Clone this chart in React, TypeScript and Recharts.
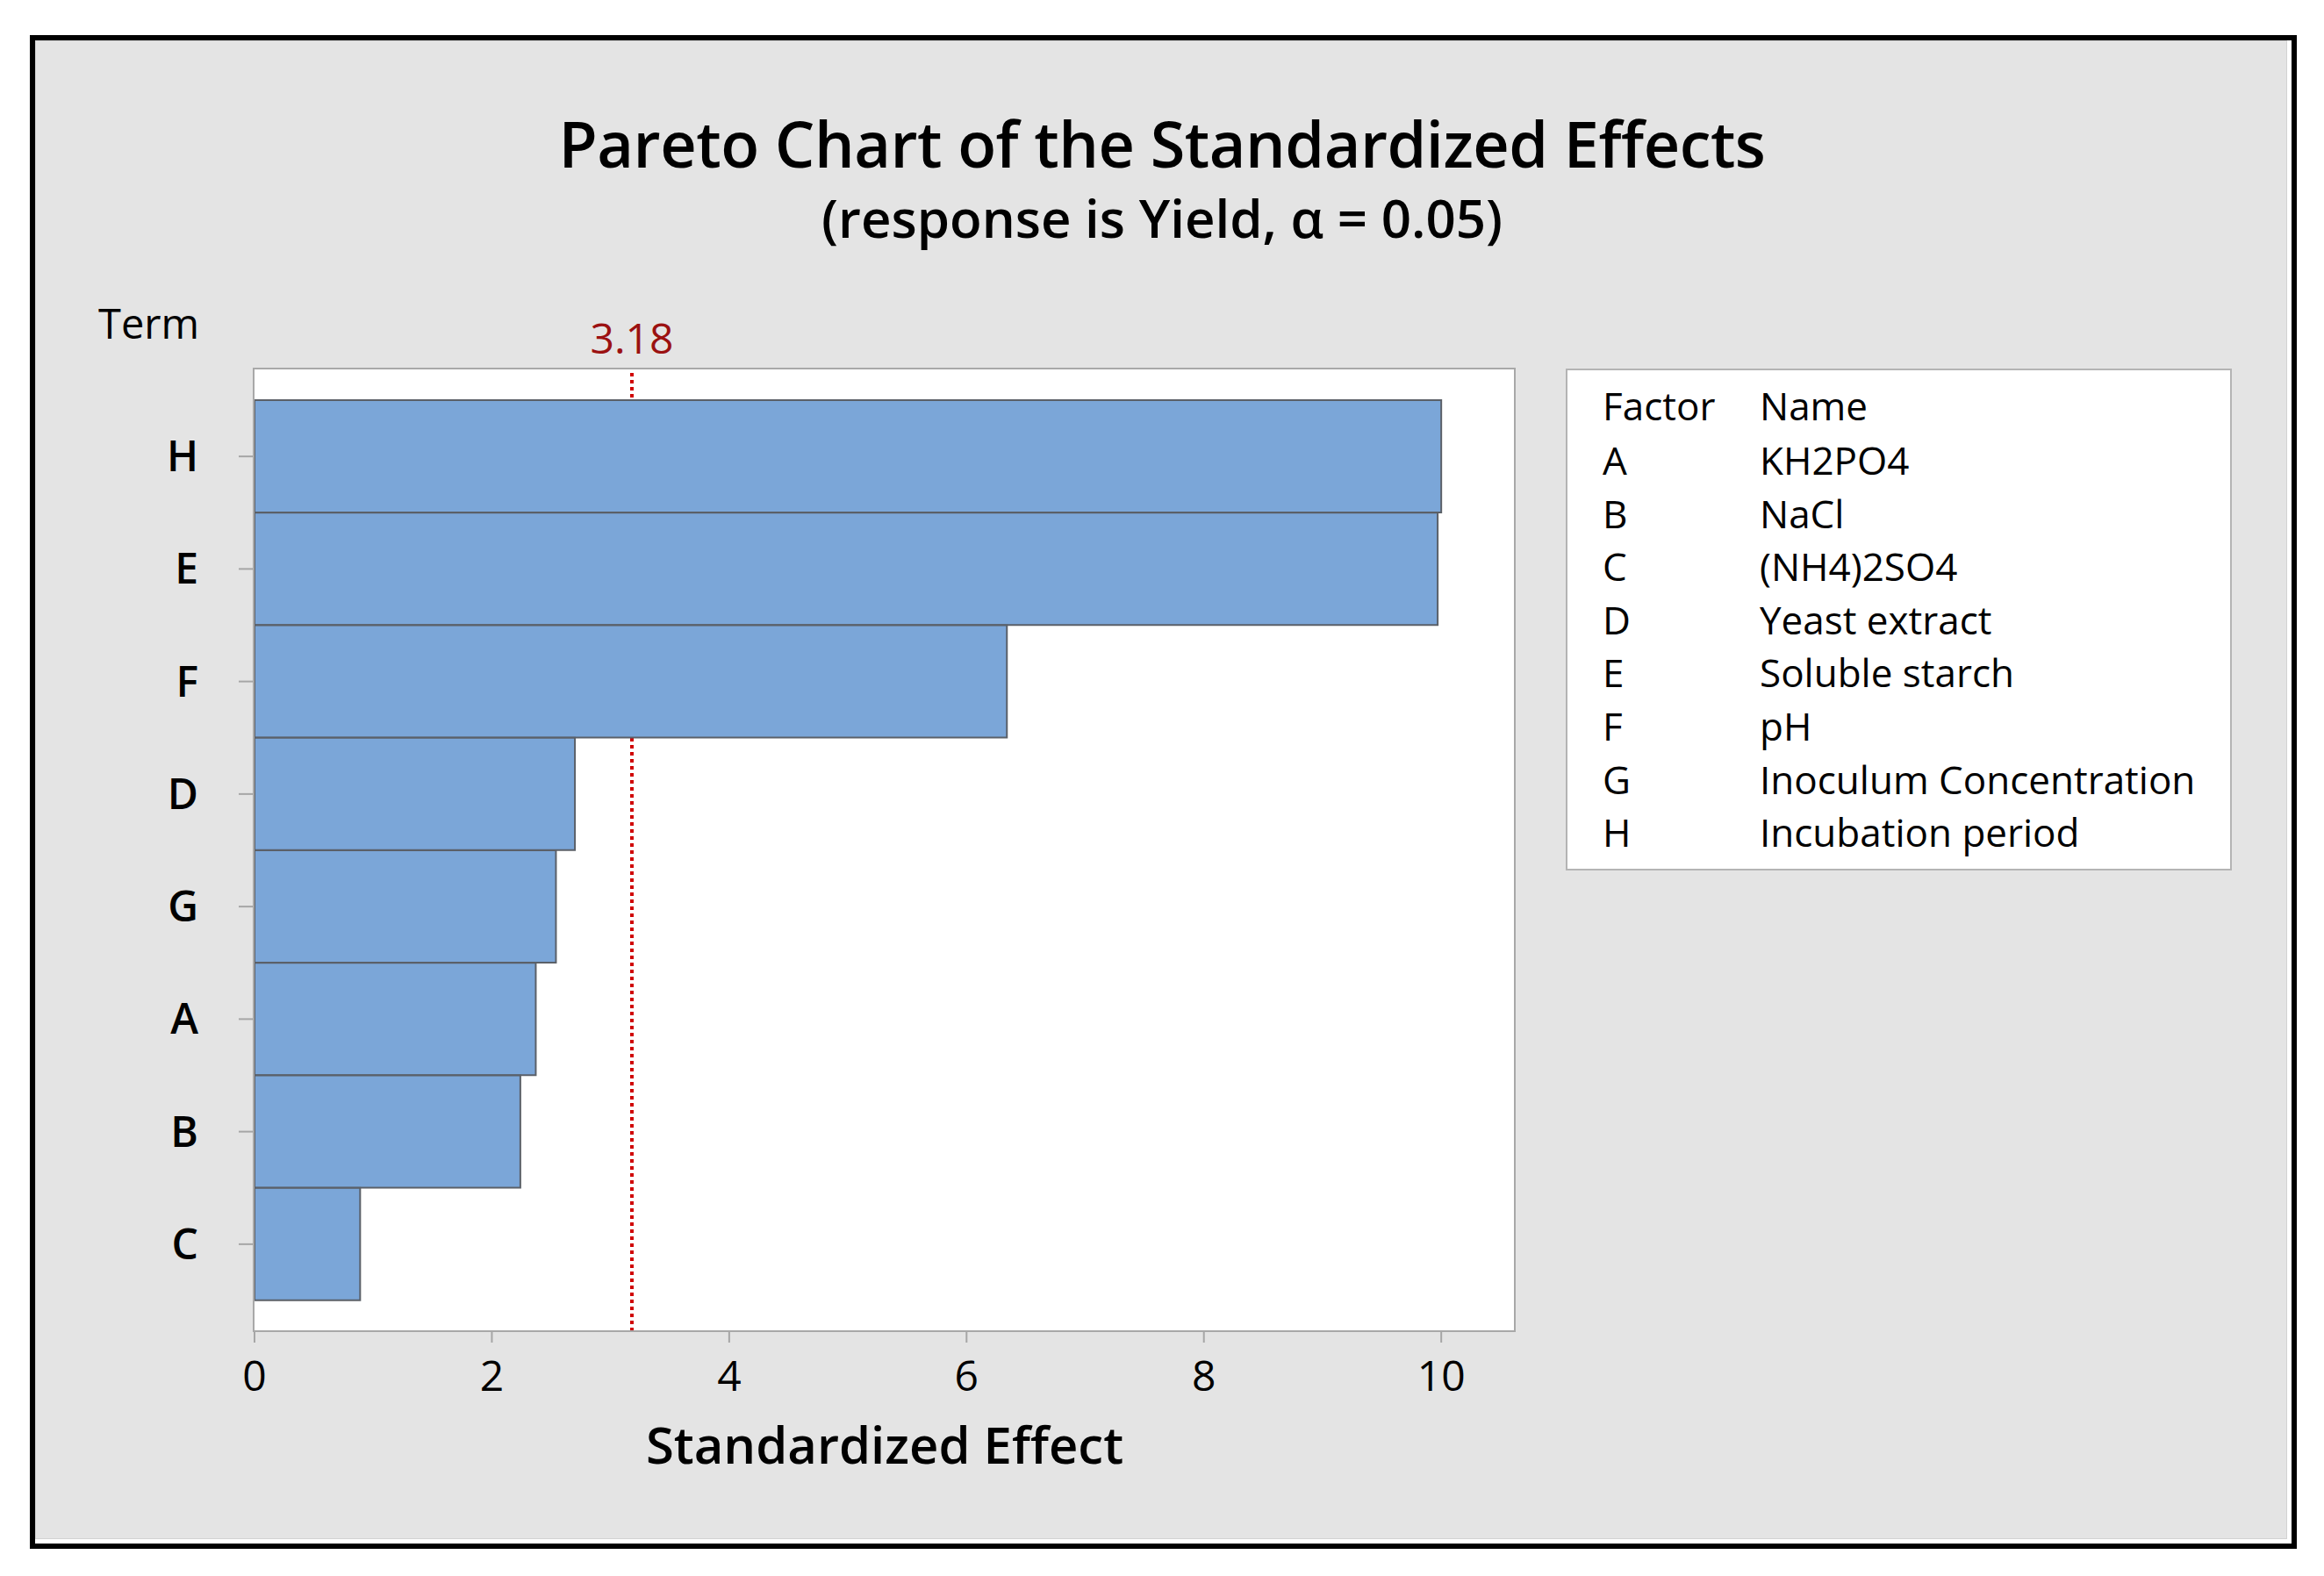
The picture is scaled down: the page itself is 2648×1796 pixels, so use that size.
import { BarChart, Bar, XAxis, YAxis, CartesianGrid, ReferenceLine, Label } from "recharts"

// terms in pareto order (largest effect on top)
const terms = ["H", "E", "F", "D", "G", "A", "B", "C"]
const effects = [10.0, 9.97, 6.34, 2.7, 2.54, 2.37, 2.24, 0.89]
const xTicks = [0, 2, 4, 6, 8, 10]
const xMax = 10.62
const criticalValue = 3.18

const factorLetters = ["A", "B", "C", "D", "E", "F", "G", "H"]
const factorNames = [
  "KH2PO4",
  "NaCl",
  "(NH4)2SO4",
  "Yeast extract",
  "Soluble starch",
  "pH",
  "Inoculum Concentration",
  "Incubation period",
]

const font = "'Open Sans', 'Noto Sans', sans-serif"
const W = 2648
const H = 1796
const plot = { left: 290, top: 420, right: 1726, bottom: 1517 }

export default function App() {
  const data = terms.map((term, i) => ({ term, effect: effects[i] }))

  return (
    <div style={{ position: "absolute", left: 0, top: 0, width: W, height: H, background: "#fff", fontFamily: font }}>
      {/* outer frame */}
      <div
        style={{
          position: "absolute",
          left: 34,
          top: 40,
          width: 2583,
          height: 1725,
          boxSizing: "border-box",
          border: "6px solid #000",
          background: "#fff",
        }}
      >
        <div
          style={{
            position: "absolute",
            left: 0,
            top: 0,
            right: 5,
            bottom: 5,
            border: "1px solid #d2d2d2",
            background: "#e4e4e4",
          }}
        />
      </div>

      <div style={{ position: "absolute", left: 0, top: 0 }}>
        <BarChart
          width={W}
          height={H}
          data={data}
          layout="vertical"
          margin={{ top: plot.top, right: W - plot.right, bottom: H - plot.bottom - 60, left: 0 }}
          barCategoryGap={0}
        >
          <CartesianGrid horizontal={false} vertical={false} fill="#ffffff" />
          <XAxis
            type="number"
            domain={[0, xMax]}
            ticks={xTicks}
            allowDataOverflow
            axisLine={false}
            tickLine={{ stroke: "#a6a6a6", strokeWidth: 2 }}
            tickSize={13}
            tickMargin={21}
            height={60}
            tick={{ fontSize: 48, fill: "#000", fontFamily: font, fontWeight: 500 }}
          >
            <Label
              value="Standardized Effect"
              position="bottom"
              offset={50}
              style={{ fontSize: 58, fill: "#000", fontFamily: font, fontWeight: 600 }}
            />
          </XAxis>
          <YAxis
            type="category"
            dataKey="term"
            width={plot.left}
            axisLine={false}
            tickLine={{ stroke: "#a6a6a6", strokeWidth: 2 }}
            tickSize={18}
            tickMargin={46}
            padding={{ top: 36, bottom: 35 }}
            tick={{ fontSize: 48, fill: "#000", fontFamily: font, fontWeight: 600 }}
          />
          <ReferenceLine
            x={criticalValue}
            stroke="#d00000"
            strokeWidth={4}
            strokeDasharray="4 4"
            zIndex={-50}
            label={{
              value: criticalValue.toFixed(2),
              position: "top",
              offset: 17,
              fill: "#9b1111",
              fontSize: 48,
              fontFamily: font,
            }}
          />
          <Bar dataKey="effect" fill="#7ba6d8" stroke="#5b6068" strokeWidth={2} isAnimationActive={false} />
        </BarChart>
      </div>

      {/* plot frame, titles and factor table */}
      <svg width={W} height={H} style={{ position: "absolute", left: 0, top: 0, pointerEvents: "none" }}>
        <rect
          x={plot.left - 1}
          y={plot.top}
          width={plot.right - plot.left + 1}
          height={plot.bottom - plot.top}
          fill="none"
          stroke="#a8a8a8"
          strokeWidth={2}
        />
        <text x={1324} y={191} textAnchor="middle" fontSize={72} fontWeight={600} fontFamily={font} fill="#000" letterSpacing={-0.5}>
          Pareto Chart of the Standardized Effects
        </text>
        <text x={1324} y={271} textAnchor="middle" fontSize={60} fontWeight={600} fontFamily={font} fill="#000">
          (response is Yield, α = 0.05)
        </text>
        <text x={112} y={386} fontSize={47} fontFamily={font} fill="#000">
          Term
        </text>

        <rect x={1785} y={421} width={757} height={570} fill="#fff" stroke="#b4b4b4" strokeWidth={2} />
        <text x={1826} y={479} fontSize={44} fontFamily={font} fill="#000">Factor</text>
        <text x={2005} y={479} fontSize={44} fontFamily={font} fill="#000">Name</text>
        {factorLetters.map((f, i) => (
          <g key={f}>
            <text x={1826} y={541 + i * 60.6} fontSize={44} fontFamily={font} fill="#000">{f}</text>
            <text x={2005} y={541 + i * 60.6} fontSize={44} fontFamily={font} fill="#000">{factorNames[i]}</text>
          </g>
        ))}
      </svg>
    </div>
  )
}
